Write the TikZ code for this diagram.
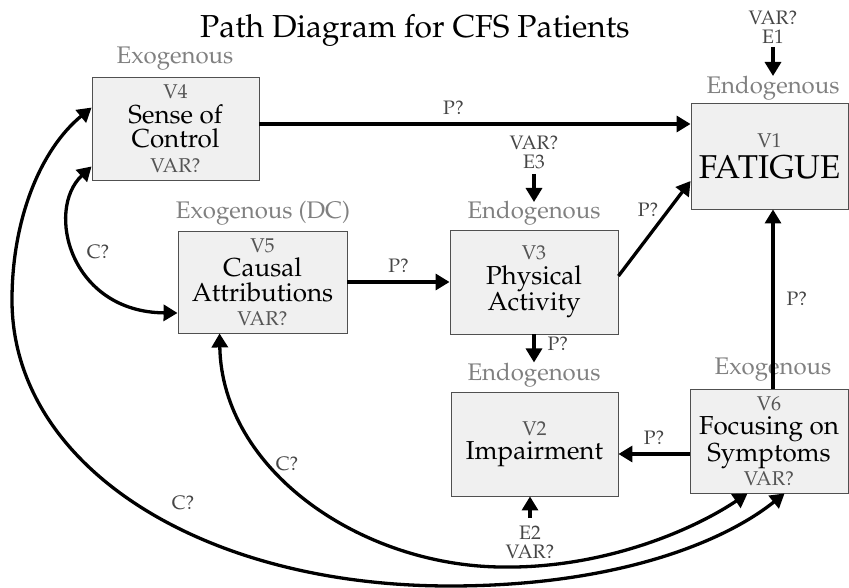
\documentclass[tikz,border=0pt]{standalone}
\usepackage[T1]{fontenc}
\usepackage{mathpazo}
\usetikzlibrary{arrows.meta,calc}
\definecolor{boxfill}{RGB}{240,240,240}
\definecolor{boxline}{RGB}{80,80,80}
\definecolor{exoc}{RGB}{128,128,128}
\definecolor{vc}{RGB}{85,85,85}
\definecolor{labc}{RGB}{70,70,70}
\tikzset{
  vbox/.style={draw=boxline, line width=0.9pt, fill=boxfill, align=center, inner sep=0pt,
    font={\fontsize{26}{24.5}\selectfont}},
  kindlab/.style={text=exoc, inner sep=0pt, font={\fontsize{24}{24}\selectfont}},
  plab/.style={text=labc, inner sep=0pt, font={\fontsize{19.5}{19}\selectfont}},
  elab/.style={text=labc, inner sep=0pt, align=center, font={\fontsize{19.5}{19}\selectfont}},
  arr/.style={line width=3.3pt, -{Triangle[length=14pt,width=16pt]}},
  darr/.style={line width=3.3pt, {Triangle[length=14pt,width=16pt]}-{Triangle[length=14pt,width=16pt]}},
}
\newcommand{\vsm}[1]{{\color{vc}\fontsize{20}{25}\selectfont #1}}
\begin{document}
\begin{tikzpicture}[x=1pt,y=-1pt]
\useasboundingbox (0,0) rectangle (849,588);
% title
\node[inner sep=0pt, font={\fontsize{31.8}{32}\selectfont}] (title) at (415,30) {Path Diagram for CFS Patients};
% boxes
\node[vbox, minimum width=167pt, minimum height=103pt] (v4) at (175.5,128.5)
  {\vsm{V4}\\Sense of\\Control\\\vsm{VAR?}};
\node[vbox, minimum width=157pt, minimum height=106pt, font={\fontsize{33}{31}\selectfont}] (v1) at (769.5,156)
  {\vsm{V1}\\FATIGUE};
\node[vbox, minimum width=169pt, minimum height=102pt] (v5) at (262.5,282)
  {\vsm{V5}\\Causal\\Attributions\\\vsm{VAR?}};
\node[vbox, minimum width=168pt, minimum height=104pt] (v3) at (534,282)
  {\vsm{V3}\\Physical\\Activity};
\node[vbox, minimum width=167pt, minimum height=104pt] (v2) at (534.5,444)
  {\vsm{V2}\\Impairment};
\node[vbox, minimum width=158pt, minimum height=104pt] (v6) at (769,441)
  {\vsm{V6}\\Focusing on\\Symptoms\\\vsm{VAR?}};
% kind labels
\node[kindlab] (k4) at (175,59) {Exogenous};
\node[kindlab] (k1) at (773,88) {Endogenous};
\node[kindlab] (k5) at (263,213) {Exogenous (DC)};
\node[kindlab] (k3) at (534,213) {Endogenous};
\node[kindlab] (k2) at (534,375) {Endogenous};
\node[kindlab] (k6) at (773,370) {Exogenous};
% error terms
\node[elab] (e1) at (773,27) {VAR?\\E1};
\node[elab] (e3) at (534,152) {VAR?\\E3};
\node[elab] (e2) at (530,542) {E2\\VAR?};
\coordinate (e1s) at (773,47);
\coordinate (e1t) at (773,76);
\coordinate (e3s) at (534,174);
\coordinate (e3t) at (534,202);
\coordinate (e2s) at (530,518);
\draw[arr] (e1s) -- (e1t);
\draw[arr] (e3s) -- (e3t);
\draw[arr] (e2s) -- (v2.south -| e2s);
% paths
\draw[arr] (v4.east |- 0,124) -- (v1.west |- 0,124) node[plab, pos=0.45, above=8pt] (p41) {P?};
\draw[arr] (v5.east |- 0,282) -- (v3.west |- 0,282) node[plab, midway, above=8pt] (p53) {P?};
\draw[arr] (v3.east |- 0,276) -- (v1.west |- 0,181) node[plab, pos=0.7, left=9pt] (p31) {P?};
\draw[arr] (v3.south) -- ++(0,28) node[plab, pos=0.35, right=12pt] (p32) {P?};
\draw[arr] (v6.west |- 0,454) -- (v2.east |- 0,454) node[plab, midway, above=8pt] (p62) {P?};
\draw[arr] (v6.north -| 773,0) -- (v1.south -| 773,0) node[plab, midway, right=12pt] (p61) {P?};
% covariances
\coordinate (a45) at ($(v4.south west)+(0,-14)$);
\coordinate (a46) at ($(v4.north west)+(0,31)$);
\coordinate (a54) at ($(v5.west)+(0,31)$);
\coordinate (a56) at ($(v5.south west)+(42,0)$);
\coordinate (a65) at ($(v6.south west)+(58,0)$);
\coordinate (a64) at ($(v6.south west)+(95,0)$);
\draw[darr] (a45) .. controls (45,210) and (70,312) .. (a54);
\node[plab] (c45) at (98,252) {C?};
\draw[darr] (a56) .. controls (222,470) and (360,565) .. (500,567) .. controls (600,569) and (690,532) .. (a65);
\node[plab] (c56) at (287,464) {C?};
\draw[darr] (a46) .. controls (40,150) and (12,220) .. (12,300) .. controls (12,465) and (200,586) .. (450,586) .. controls (610,586) and (720,545) .. (a64);
\node[plab] (c46) at (183,503) {C?};
\end{tikzpicture}
\end{document}
